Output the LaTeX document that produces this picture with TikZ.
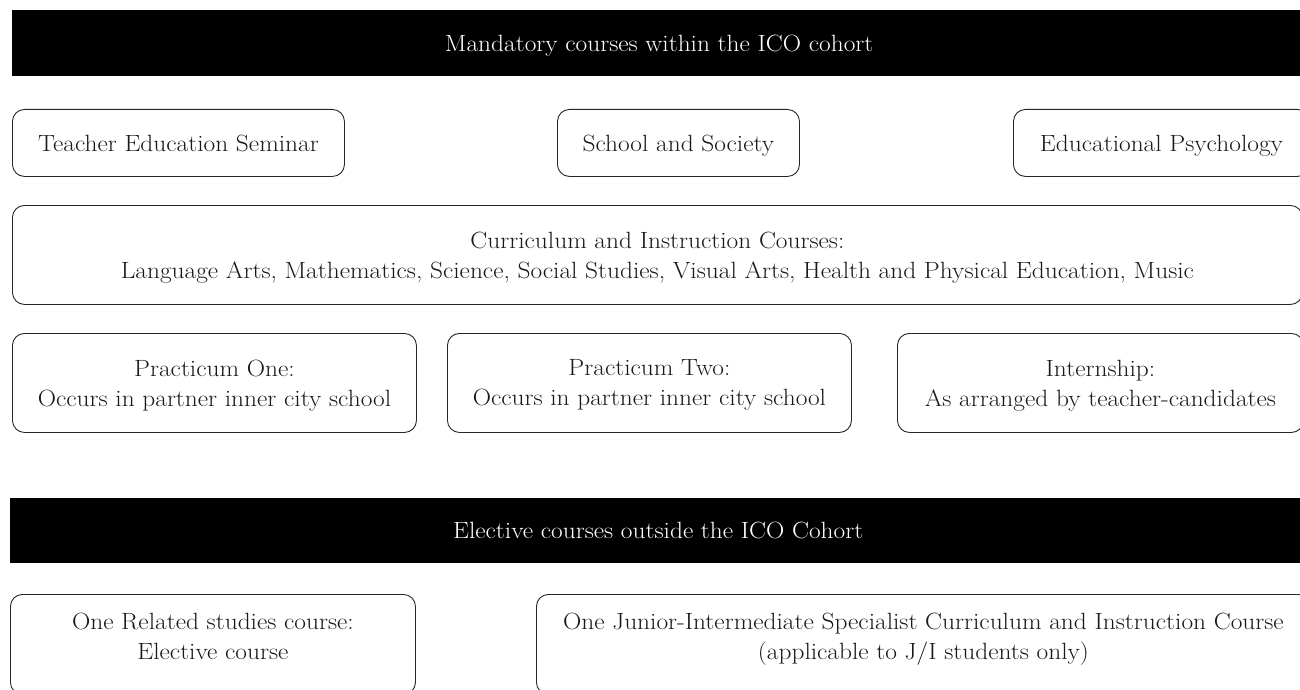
\documentclass[tikz,border=0pt]{standalone}
\usepackage{fontspec}
\setmainfont{Latin Modern Roman}[FakeStretch=1.08]
\begin{document}
\begin{tikzpicture}[x=1pt,y=-1pt,
  txt/.style={font=\fontsize{23.5}{30}\selectfont, align=center, inner sep=0pt,
              text depth=0pt},
  bar/.style={txt, fill=black, text=white, anchor=north west},
  course/.style={txt, draw=black!85, line width=0.9pt, rounded corners=12pt,
                 anchor=north west, text=black!90}]
  \useasboundingbox (0,0) rectangle (1300,690);
  \clip (0,0) rectangle (1300,690);

  % section heading: mandatory courses
  \node[bar, minimum width=1294pt, minimum height=66pt] (mand) at (12,10)
    {Mandatory courses within the ICO cohort};

  % row 1
  \node[course, minimum width=332pt, minimum height=67pt] (tes) at (12,109)
    {Teacher Education Seminar};
  \node[course, minimum width=242pt, minimum height=67pt] (sas) at (557,109)
    {School and Society};
  \node[course, minimum width=296pt, minimum height=67pt] (edp) at (1013,109)
    {Educational Psychology};

  % row 2
  \node[course, minimum width=1290pt, minimum height=99pt] (ci) at (12,205)
    {Curriculum and Instruction Courses:\\
     Language Arts, Mathematics, Science, Social Studies, Visual Arts, Health and Physical Education, Music};

  % row 3
  \node[course, minimum width=404pt, minimum height=99pt] (p1) at (12,333)
    {Practicum One:\\Occurs in partner inner city school};
  \node[course, minimum width=404pt, minimum height=99pt] (p2) at (447,333)
    {Practicum Two:\\Occurs in partner inner city school};
  \node[course, minimum width=406pt, minimum height=99pt] (int) at (897,333)
    {Internship:\\As arranged by teacher-candidates};

  % section heading: elective courses
  \node[bar, minimum width=1296pt, minimum height=65pt] (elec) at (10,498)
    {Elective courses outside the ICO Cohort};

  % row 5 (boxes run past the lower edge)
  \node[course, text depth=16pt, minimum width=405pt, minimum height=100pt] (rel) at (10,594)
    {One Related studies course:\\Elective course};
  \node[course, text depth=16pt, minimum width=774pt, minimum height=100pt] (ji) at (536,594)
    {One Junior-Intermediate Specialist Curriculum and Instruction Course\\
     (applicable to J/I students only)};
\end{tikzpicture}
\end{document}
